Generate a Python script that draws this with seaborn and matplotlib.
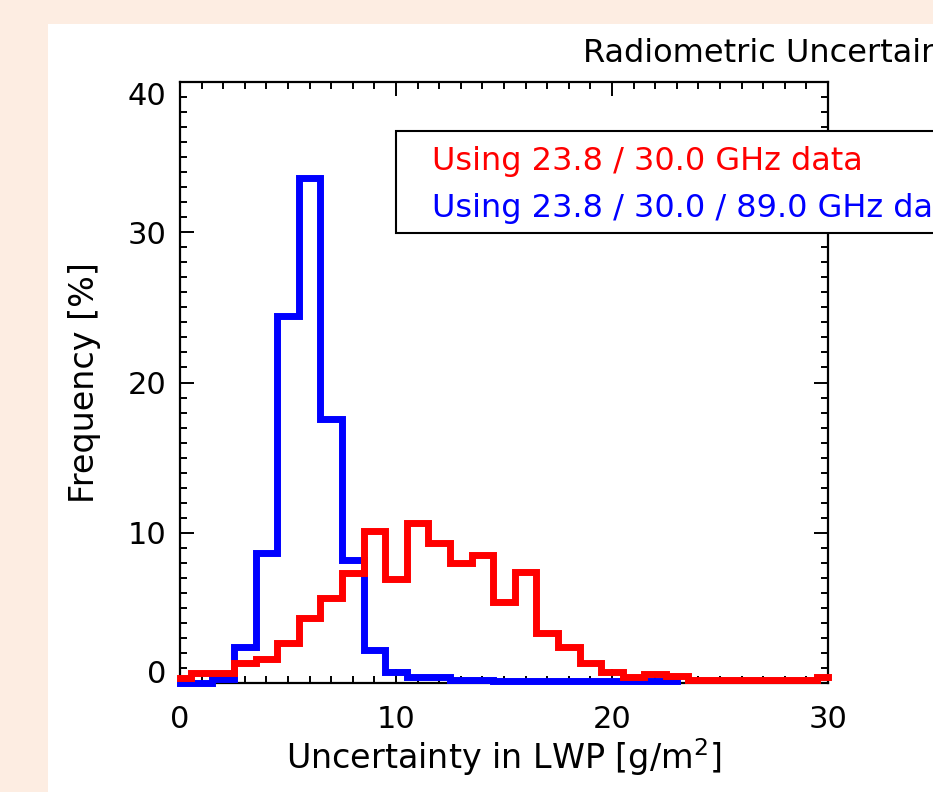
import numpy as np
import pandas as pd
import matplotlib.pyplot as plt
import seaborn as sns
from matplotlib.patches import Rectangle
from matplotlib.ticker import MultipleLocator

# ======================================================
# DATA (1 g/m2 bins)
# ======================================================

bins_red = list(range(0, 31))
freq_red = [0.35, 0.65, 0.65, 1.3, 1.6, 2.65, 4.3, 5.65, 7.3, 10.1,
            6.9, 10.65, 9.3, 8.0, 8.5, 5.4, 7.4, 3.3, 2.4, 1.3,
            0.75, 0.4, 0.6, 0.45, 0.2, 0.2, 0.2, 0.2, 0.2, 0.2, 0.4]

bins_blue = list(range(0, 24))
freq_blue = [0.0, 0.0, 0.25, 2.4, 8.65, 24.4, 33.6, 17.6, 8.2, 2.2,
             0.75, 0.4, 0.4, 0.2, 0.2, 0.1, 0.1, 0.1, 0.1, 0.1,
             0.1, 0.1, 0.15, 0.1]

x_ticks = [0, 10, 20, 30]
y_ticks = [0, 10, 20, 30, 40]

label_red = "Using 23.8 / 30.0 GHz data"
label_blue = "Using 23.8 / 30.0 / 89.0 GHz data"
title = "Radiometric Uncertainty"

# ======================================================
# FIGURE
# ======================================================

plt.rcParams['font.family'] = ['DejaVu Sans']
plt.rcParams['text.color'] = 'black'

W, H = 933, 792
fig = plt.figure(figsize=(W / 100, H / 100), dpi=100, facecolor='#fdede2')

# white plot window on the peach page
fig.add_artist(Rectangle((48 / W, 0), 1, 1 - 24 / H,
                         transform=fig.transFigure,
                         facecolor='white', edgecolor='none', zorder=-5))

ax = fig.add_axes([180 / W, 1 - 683 / H, 648 / W, 601 / H])
ax.set_facecolor('white')

# ======================================================
# HISTOGRAM STEPS
# ======================================================

df_blue = pd.DataFrame({"x": bins_blue, "y": freq_blue})
df_red = pd.DataFrame({"x": bins_red, "y": freq_red})

sns.lineplot(data=df_blue, x="x", y="y", ax=ax,
             color='#0000ff', linewidth=5,
             drawstyle='steps-mid', estimator=None, errorbar=None,
             solid_joinstyle='miter', clip_on=False, zorder=3)

sns.lineplot(data=df_red, x="x", y="y", ax=ax,
             color='#ff0000', linewidth=5,
             drawstyle='steps-mid', estimator=None, errorbar=None,
             solid_joinstyle='miter', clip_on=False, zorder=4)

# ======================================================
# AXES STYLE
# ======================================================

ax.set_xlim(0, 30)
ax.set_ylim(0, 40)

ax.set_xticks(x_ticks)
ax.set_yticks(y_ticks)
ax.set_xticklabels([str(v) for v in x_ticks])
ax.set_yticklabels([str(v) for v in y_ticks])

ax.xaxis.set_minor_locator(MultipleLocator(1))
ax.yaxis.set_minor_locator(MultipleLocator(1))

for s in ax.spines.values():
    s.set_linewidth(1.6)
    s.set_color('black')

ax.tick_params(which='both', direction='in', top=True, right=True,
               color='black', width=1.4, labelcolor='black')
ax.tick_params(which='major', length=10, labelsize=22)
ax.tick_params(which='minor', length=5)
ax.tick_params(axis='x', pad=15.5)
ax.tick_params(axis='y', pad=9.5)

ylabs = ax.get_yticklabels()
ylabs[0].set_va('baseline')
ylabs[-1].set_va('top')

ax.set_ylabel("Frequency [%]", fontsize=24, color='black')
ax.yaxis.set_label_coords(-0.122, 0.5)

ax.set_xlabel("Uncertainty in LWP [g/m$^2$]", fontsize=24, color='black')
ax.xaxis.set_label_coords(0.5, -0.088)

# ======================================================
# TITLE AND LEGEND BOX (the plot window crops them at the right)
# ======================================================

fig.text(583 / W, 1 - 62 / H, title, fontsize=23, va='baseline')

fig.add_artist(Rectangle((396 / W, 1 - 233 / H), 0.7, 102 / H,
                         transform=fig.transFigure,
                         facecolor='white', edgecolor='black',
                         linewidth=1.5, zorder=5))

fig.text(432 / W, 1 - 170 / H, label_red, color='#ff0000',
         fontsize=23, va='baseline', zorder=6)
fig.text(432 / W, 1 - 217 / H, label_blue, color='#0000ff',
         fontsize=23, va='baseline', zorder=6)

plt.savefig("out.png", dpi=100, facecolor=fig.get_facecolor())
plt.close()
